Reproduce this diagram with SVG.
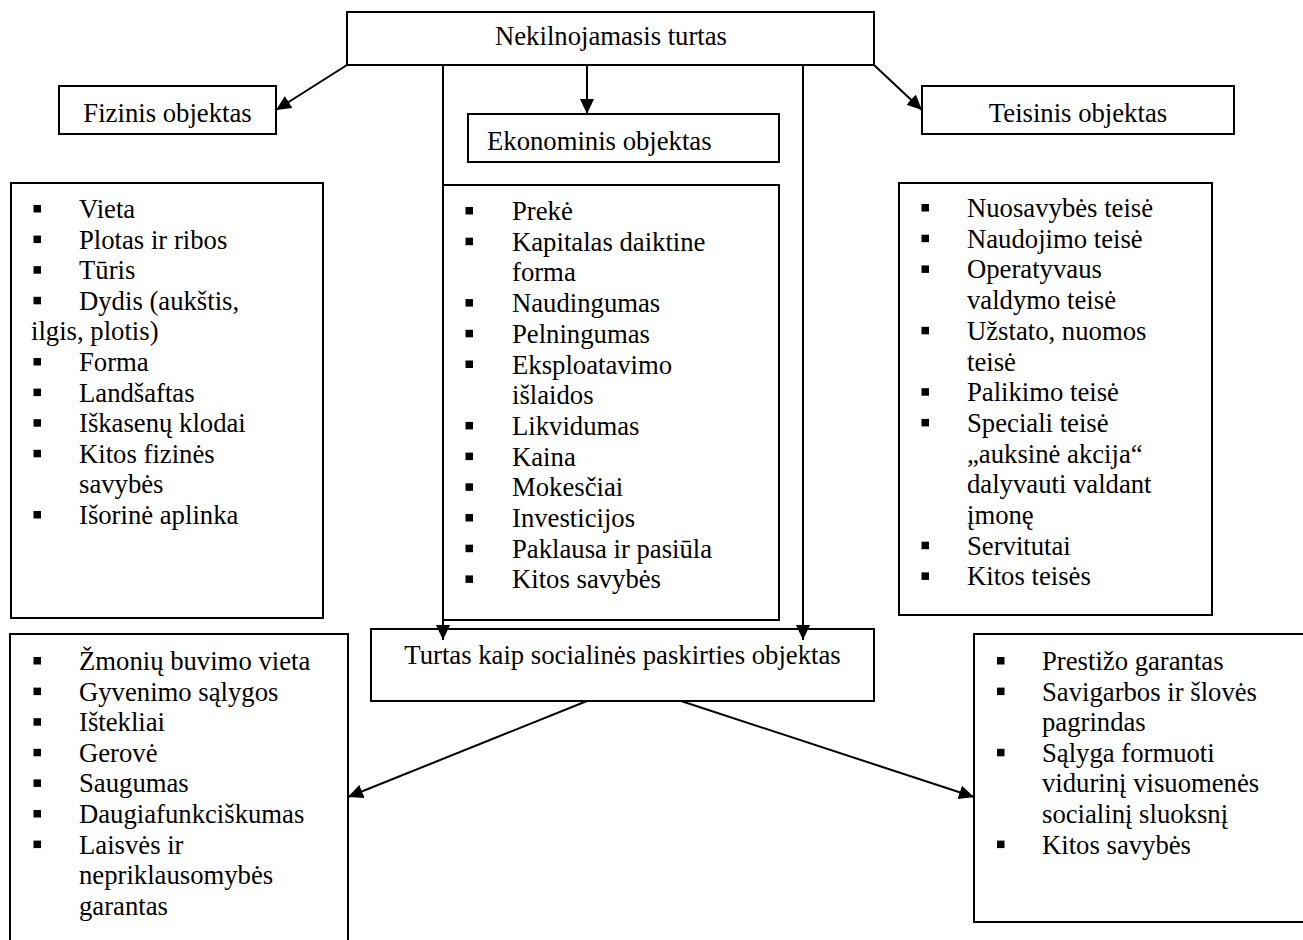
<svg xmlns="http://www.w3.org/2000/svg" width="1303" height="940" viewBox="0 0 1303 940">
<style>
.box{fill:#fff;stroke:#000;stroke-width:2}
.t{font-family:"Liberation Serif","Times New Roman",serif;font-size:26.7px;fill:#000}
.c{text-anchor:middle}
.b{fill:#000}
.conn{stroke:#000;stroke-width:2;fill:none;marker-end:url(#ah)}
</style>
<defs>
<marker id="ah" markerUnits="userSpaceOnUse" viewBox="0 0 15 14" refX="15" refY="7" markerWidth="15" markerHeight="14" orient="auto">
<path d="M0,0 L15,7 L0,14 z" fill="#000"/>
</marker>
</defs>
<rect width="1303" height="940" fill="#fff"/>

<g id="node-nekilnojamasis">
<rect class="box" x="347" y="12" width="527" height="53"/>
<text class="t c" x="611" y="45">Nekilnojamasis turtas</text>
</g>

<g id="node-fizinis">
<rect class="box" x="59" y="86" width="217" height="48"/>
<text class="t c" x="167.5" y="122">Fizinis objektas</text>
</g>

<g id="node-ekonominis">
<rect class="box" x="468" y="114" width="311" height="48"/>
<text class="t" x="487" y="150">Ekonominis objektas</text>
</g>

<g id="node-teisinis">
<rect class="box" x="922" y="86" width="312" height="48"/>
<text class="t c" x="1078" y="122">Teisinis objektas</text>
</g>

<g id="node-fizinis-list">
<rect class="box" x="11" y="183" width="312" height="435"/>
<g class="b">
<rect x="33.5" y="205" width="7.5" height="7.5"/>
<rect x="33.5" y="235.6" width="7.5" height="7.5"/>
<rect x="33.5" y="266.2" width="7.5" height="7.5"/>
<rect x="33.5" y="296.8" width="7.5" height="7.5"/>
<rect x="33.5" y="358" width="7.5" height="7.5"/>
<rect x="33.5" y="388.6" width="7.5" height="7.5"/>
<rect x="33.5" y="419.2" width="7.5" height="7.5"/>
<rect x="33.5" y="449.8" width="7.5" height="7.5"/>
<rect x="33.5" y="511" width="7.5" height="7.5"/>
</g>
<text class="t">
<tspan x="79" y="218">Vieta</tspan>
<tspan x="79" y="248.6">Plotas ir ribos</tspan>
<tspan x="79" y="279.2">Tūris</tspan>
<tspan x="79" y="309.8">Dydis (aukštis,</tspan>
<tspan x="31" y="340.4">ilgis, plotis)</tspan>
<tspan x="79" y="371">Forma</tspan>
<tspan x="79" y="401.6">Landšaftas</tspan>
<tspan x="79" y="432.2">Iškasenų klodai</tspan>
<tspan x="79" y="462.8">Kitos fizinės</tspan>
<tspan x="79" y="493.4">savybės</tspan>
<tspan x="79" y="524">Išorinė aplinka</tspan>
</text>
</g>

<g id="node-ekonominis-list">
<rect class="box" x="443" y="185" width="336" height="435"/>
<g class="b">
<rect x="465.5" y="207" width="7.5" height="7.5"/>
<rect x="465.5" y="237.7" width="7.5" height="7.5"/>
<rect x="465.5" y="299.1" width="7.5" height="7.5"/>
<rect x="465.5" y="329.8" width="7.5" height="7.5"/>
<rect x="465.5" y="360.5" width="7.5" height="7.5"/>
<rect x="465.5" y="421.9" width="7.5" height="7.5"/>
<rect x="465.5" y="452.6" width="7.5" height="7.5"/>
<rect x="465.5" y="483.3" width="7.5" height="7.5"/>
<rect x="465.5" y="514" width="7.5" height="7.5"/>
<rect x="465.5" y="544.7" width="7.5" height="7.5"/>
<rect x="465.5" y="575.4" width="7.5" height="7.5"/>
</g>
<text class="t">
<tspan x="512" y="220">Prekė</tspan>
<tspan x="512" y="250.7">Kapitalas daiktine</tspan>
<tspan x="512" y="281.4">forma</tspan>
<tspan x="512" y="312.1">Naudingumas</tspan>
<tspan x="512" y="342.8">Pelningumas</tspan>
<tspan x="512" y="373.5">Eksploatavimo</tspan>
<tspan x="512" y="404.2">išlaidos</tspan>
<tspan x="512" y="434.9">Likvidumas</tspan>
<tspan x="512" y="465.6">Kaina</tspan>
<tspan x="512" y="496.3">Mokesčiai</tspan>
<tspan x="512" y="527">Investicijos</tspan>
<tspan x="512" y="557.7">Paklausa ir pasiūla</tspan>
<tspan x="512" y="588.4">Kitos savybės</tspan>
</text>
</g>

<g id="node-teisinis-list">
<rect class="box" x="899" y="183" width="313" height="432"/>
<g class="b">
<rect x="921.5" y="204" width="7.5" height="7.5"/>
<rect x="921.5" y="234.7" width="7.5" height="7.5"/>
<rect x="921.5" y="265.4" width="7.5" height="7.5"/>
<rect x="921.5" y="326.8" width="7.5" height="7.5"/>
<rect x="921.5" y="388.2" width="7.5" height="7.5"/>
<rect x="921.5" y="418.9" width="7.5" height="7.5"/>
<rect x="921.5" y="541.7" width="7.5" height="7.5"/>
<rect x="921.5" y="572.4" width="7.5" height="7.5"/>
</g>
<text class="t">
<tspan x="967" y="217">Nuosavybės teisė</tspan>
<tspan x="967" y="247.7">Naudojimo teisė</tspan>
<tspan x="967" y="278.4">Operatyvaus</tspan>
<tspan x="967" y="309.1">valdymo teisė</tspan>
<tspan x="967" y="339.8">Užstato, nuomos</tspan>
<tspan x="967" y="370.5">teisė</tspan>
<tspan x="967" y="401.2">Palikimo teisė</tspan>
<tspan x="967" y="431.9">Speciali teisė</tspan>
<tspan x="967" y="462.6">„auksinė akcija“</tspan>
<tspan x="967" y="493.3">dalyvauti valdant</tspan>
<tspan x="967" y="524">įmonę</tspan>
<tspan x="967" y="554.7">Servitutai</tspan>
<tspan x="967" y="585.4">Kitos teisės</tspan>
</text>
</g>

<g id="node-socialinis">
<rect class="box" x="371" y="629" width="503" height="72"/>
<text class="t c" x="622.5" y="664">Turtas kaip socialinės paskirties objektas</text>
</g>

<g id="node-socialinis-left-list">
<rect class="box" x="10" y="634" width="338" height="320"/>
<g class="b">
<rect x="33.5" y="657" width="7.5" height="7.5"/>
<rect x="33.5" y="687.6" width="7.5" height="7.5"/>
<rect x="33.5" y="718.2" width="7.5" height="7.5"/>
<rect x="33.5" y="748.8" width="7.5" height="7.5"/>
<rect x="33.5" y="779.4" width="7.5" height="7.5"/>
<rect x="33.5" y="810" width="7.5" height="7.5"/>
<rect x="33.5" y="840.6" width="7.5" height="7.5"/>
</g>
<text class="t">
<tspan x="79" y="670">Žmonių buvimo vieta</tspan>
<tspan x="79" y="700.6">Gyvenimo sąlygos</tspan>
<tspan x="79" y="731.2">Ištekliai</tspan>
<tspan x="79" y="761.8">Gerovė</tspan>
<tspan x="79" y="792.4">Saugumas</tspan>
<tspan x="79" y="823">Daugiafunkciškumas</tspan>
<tspan x="79" y="853.6">Laisvės ir</tspan>
<tspan x="79" y="884.2">nepriklausomybės</tspan>
<tspan x="79" y="914.8">garantas</tspan>
</text>
</g>

<g id="node-socialinis-right-list">
<rect class="box" x="974" y="634" width="340" height="288"/>
<g class="b">
<rect x="997" y="657" width="7.5" height="7.5"/>
<rect x="997" y="687.6" width="7.5" height="7.5"/>
<rect x="997" y="748.8" width="7.5" height="7.5"/>
<rect x="997" y="840.6" width="7.5" height="7.5"/>
</g>
<text class="t">
<tspan x="1042" y="670">Prestižo garantas</tspan>
<tspan x="1042" y="700.6">Savigarbos ir šlovės</tspan>
<tspan x="1042" y="731.2">pagrindas</tspan>
<tspan x="1042" y="761.8">Sąlyga formuoti</tspan>
<tspan x="1042" y="792.4">vidurinį visuomenės</tspan>
<tspan x="1042" y="823">socialinį sluoksnį</tspan>
<tspan x="1042" y="853.6">Kitos savybės</tspan>
</text>
</g>

<g id="connectors">
<line class="conn" x1="347" y1="65" x2="276" y2="110"/>
<line class="conn" x1="587" y1="65" x2="587" y2="114"/>
<line class="conn" x1="874" y1="65" x2="922" y2="110"/>
<line class="conn" x1="443" y1="65" x2="443" y2="640"/>
<line class="conn" x1="803" y1="65" x2="803" y2="640"/>
<line class="conn" x1="587" y1="701" x2="348" y2="797"/>
<line class="conn" x1="681" y1="701" x2="974" y2="797"/>
</g>
</svg>
